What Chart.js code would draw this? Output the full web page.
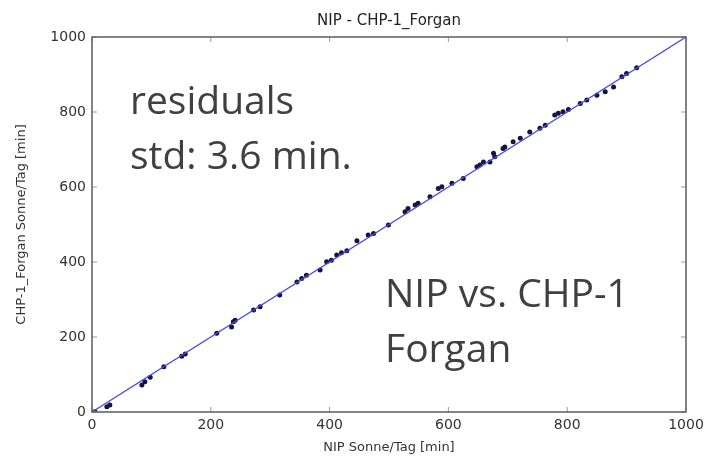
<!DOCTYPE html>
<html>
<head>
<meta charset="utf-8">
<script src="https://cdn.jsdelivr.net/npm/chart.js@4"></script>
<style>
  html, body { margin: 0; padding: 0; background: #fff; }
  #wrap { position: relative; width: 714px; height: 462px; }
</style>
</head>
<body>
<div id="wrap"><canvas id="nipChart" width="714" height="462"></canvas></div>
<script>
// NIP vs CHP-1 sunshine minutes per day
let nip_min = [0, 5, 25, 30, 84, 89, 98, 121, 151, 157, 210, 235, 238, 241, 272, 283, 316,
    345, 353, 361, 384, 395, 403, 412, 420, 429, 446, 465, 474, 499, 527, 532, 544, 549,
    569, 583, 589, 606, 625, 648, 653, 659, 670, 678, 676, 692, 695, 709, 721, 737, 754,
    763, 779, 785, 793, 802, 822, 833, 850, 864, 878, 892, 900, 917];
let chp_min = [0, 1, 14, 19, 72, 81, 93, 121, 149, 155, 210, 227, 241, 245, 272, 281, 312,
    347, 356, 365, 379, 401, 405, 419, 425, 430, 457, 472, 476, 499, 534, 543, 552, 557,
    574, 596, 601, 610, 623, 654, 659, 667, 667, 681, 690, 703, 707, 721, 730, 747, 757,
    765, 792, 797, 801, 807, 823, 832, 845, 854, 867, 894, 903, 918];
let line_x = [0, 1000];
let line_y = [0, 1000];
let tick_vals = [0, 200, 400, 600, 800, 1000];

let scatter_pts = nip_min.map((v, i) => ({x: v, y: chp_min[i]}));
let line_pts = line_x.map((v, i) => ({x: v, y: line_y[i]}));

// matplotlib style: frame, inward ticks, overlay text
const framePlugin = {
    id: 'frame',
    afterDatasetsDraw(chart) {
        const c = chart.ctx, a = chart.chartArea;
        const xs = chart.scales.x, ys = chart.scales.y;
        c.save();
        c.strokeStyle = '#9a9a9a';
        c.lineWidth = 1;
        tick_vals.forEach(v => {
            let px = xs.getPixelForValue(v), py = ys.getPixelForValue(v);
            c.beginPath();
            c.moveTo(px, a.bottom); c.lineTo(px, a.bottom - 5);
            c.moveTo(px, a.top); c.lineTo(px, a.top + 5);
            c.moveTo(a.left, py); c.lineTo(a.left + 5, py);
            c.moveTo(a.right, py); c.lineTo(a.right - 5, py);
            c.stroke();
        });
        c.strokeStyle = '#666';
        c.lineWidth = 1.6;
        c.strokeRect(a.left, a.top, a.right - a.left, a.bottom - a.top);

        c.fillStyle = '#404040';
        c.font = '39px "Open Sans"';
        c.textBaseline = 'alphabetic';
        c.textAlign = 'left';
        c.fillText('residuals', 130, 114);
        c.fillText('std: 3.6 min.', 130, 169);
        c.fillText('NIP vs. CHP-1', 385, 307);
        c.fillText('Forgan', 385, 362);
        c.restore();
    }
};

let ctx = document.getElementById('nipChart');
let nipChart = new Chart(ctx, {
    type: 'scatter',
    data: {
        datasets: [
            {
                type: 'line',
                label: '1:1',
                data: line_pts,
                borderColor: '#4a4ae6',
                borderWidth: 1.3,
                pointRadius: 0,
                fill: false,
            },
            {
                label: 'NIP - CHP-1_Forgan',
                data: scatter_pts,
                backgroundColor: '#14143c',
                borderColor: '#14143c',
                pointRadius: 2.5,
                borderWidth: 0,
            },
        ]
    },
    options: {
        responsive: false,
        animation: false,
        layout: { padding: { left: 0, right: 28, top: 0, bottom: 0 } },
        plugins: {
            legend: { display: false },
            tooltip: { enabled: false },
            title: {
                display: true,
                fullSize: false,
                text: 'NIP - CHP-1_Forgan',
                color: '#222',
                font: { family: 'DejaVu Sans', size: 15, weight: 'normal' },
                padding: { top: 12, bottom: 7 },
            },
        },
        scales: {
            x: {
                type: 'linear',
                min: 0, max: 1000,
                afterFit: s => { s.height = 50; },
                afterBuildTicks: s => { s.ticks = tick_vals.map(v => ({value: v})); },
                grid: { display: false, drawTicks: false },
                border: { display: false },
                ticks: { color: '#333', padding: 5, font: { family: 'DejaVu Sans', size: 14 },
                         callback: v => String(v) },
                title: {
                    display: true,
                    text: 'NIP Sonne/Tag [min]',
                    color: '#333',
                    font: { family: 'DejaVu Sans', size: 13 },
                    padding: { top: 0, bottom: 7 },
                },
            },
            y: {
                type: 'linear',
                min: 0, max: 1000,
                afterFit: s => { s.width = 92; },
                afterBuildTicks: s => { s.ticks = tick_vals.map(v => ({value: v})); },
                grid: { display: false, drawTicks: false },
                border: { display: false },
                ticks: { color: '#333', padding: 6, font: { family: 'DejaVu Sans', size: 14 },
                         callback: v => String(v) },
                title: {
                    display: true,
                    text: 'CHP-1_Forgan Sonne/Tag [min]',
                    color: '#333',
                    font: { family: 'DejaVu Sans', size: 13 },
                    padding: { top: 14, bottom: 4 },
                },
            },
        },
    },
    plugins: [framePlugin],
});
</script>
</body>
</html>
